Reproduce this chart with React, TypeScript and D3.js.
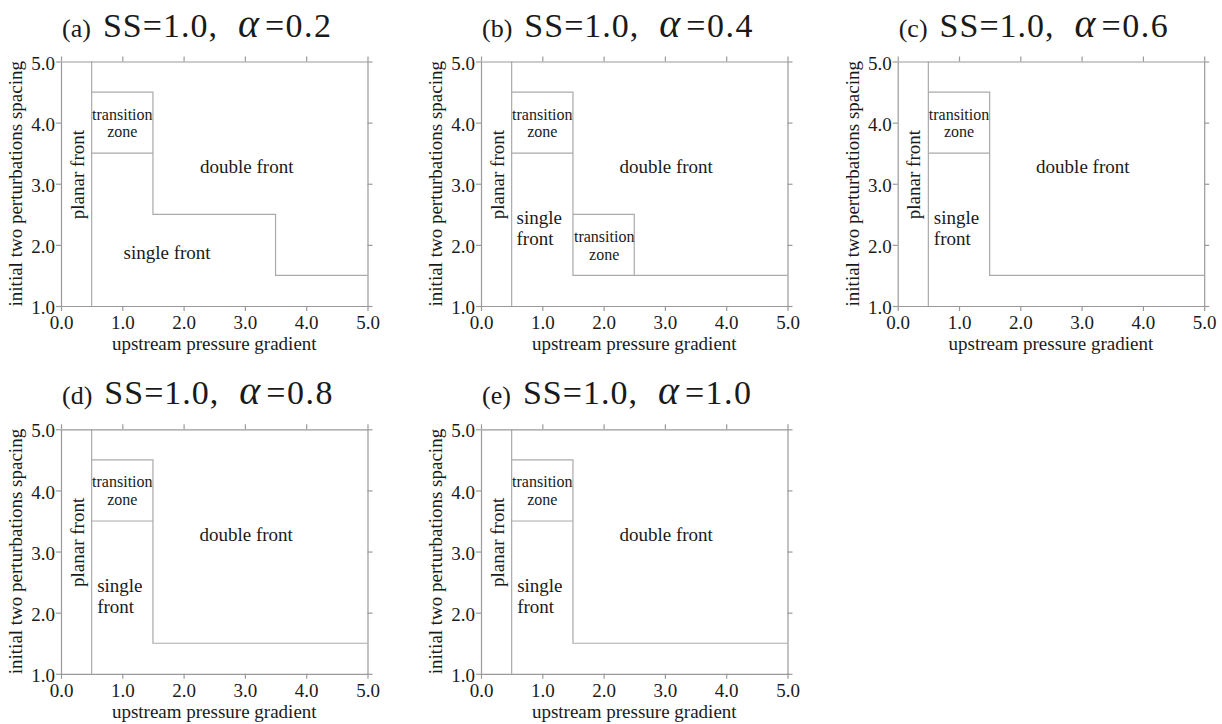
import React, { useEffect, useRef } from "react";
import * as d3 from "d3";

// ---- data ----
const panelLetters = ["a", "b", "c", "d", "e"];
const ssValues = [1.0, 1.0, 1.0, 1.0, 1.0];
const alphaValues = [0.2, 0.4, 0.6, 0.8, 1.0];
const xTicks = [0, 1, 2, 3, 4, 5];
const yTicks = [1, 2, 3, 4, 5];
const xDomain: [number, number] = [0, 5];
const yDomain: [number, number] = [1, 5];
const xLabel = "upstream pressure gradient";
const yLabel = "initial two perturbations spacing";

type Pt = [number, number];
// regime boundaries for each panel (data coordinates)
const boundariesA: Pt[][] = [
  [[0.5, 1], [0.5, 5]],
  [[0.5, 4.5], [1.5, 4.5], [1.5, 2.5], [3.5, 2.5], [3.5, 1.5], [5, 1.5]],
  [[0.5, 3.5], [1.5, 3.5]],
];
const boundariesB: Pt[][] = [
  [[0.5, 1], [0.5, 5]],
  [[0.5, 4.5], [1.5, 4.5], [1.5, 1.5], [5, 1.5]],
  [[0.5, 3.5], [1.5, 3.5]],
  [[1.5, 2.5], [2.5, 2.5], [2.5, 1.5]],
];
const boundariesC: Pt[][] = [
  [[0.5, 1], [0.5, 5]],
  [[0.5, 4.5], [1.5, 4.5], [1.5, 1.5], [5, 1.5]],
  [[0.5, 3.5], [1.5, 3.5]],
];
const boundaries = [boundariesA, boundariesB, boundariesC, boundariesC, boundariesC];

type Label = { lines: string[]; x: number; y: number; dy: number; anchor: string; small?: boolean; rotate?: boolean };
const labelsA: Label[] = [
  { lines: ["planar front"], x: 0.37, y: 3.15, dy: 0, anchor: "middle", rotate: true },
  { lines: ["transition", "zone"], x: 1.0, y: 4.05, dy: 0.29, anchor: "middle", small: true },
  { lines: ["double front"], x: 3.03, y: 3.17, dy: 0, anchor: "middle" },
  { lines: ["single front"], x: 1.73, y: 1.77, dy: 0, anchor: "middle" },
];
const labelsB: Label[] = [
  { lines: ["planar front"], x: 0.37, y: 3.15, dy: 0, anchor: "middle", rotate: true },
  { lines: ["transition", "zone"], x: 1.0, y: 4.05, dy: 0.29, anchor: "middle", small: true },
  { lines: ["double front"], x: 3.02, y: 3.17, dy: 0, anchor: "middle" },
  { lines: ["single", "front"], x: 0.58, y: 2.34, dy: 0.35, anchor: "start" },
  { lines: ["transition", "zone"], x: 2.01, y: 2.05, dy: 0.29, anchor: "middle", small: true },
];
const labelsC: Label[] = [
  { lines: ["planar front"], x: 0.37, y: 3.15, dy: 0, anchor: "middle", rotate: true },
  { lines: ["transition", "zone"], x: 1.0, y: 4.05, dy: 0.29, anchor: "middle", small: true },
  { lines: ["double front"], x: 3.02, y: 3.17, dy: 0, anchor: "middle" },
  { lines: ["single", "front"], x: 0.59, y: 2.34, dy: 0.34, anchor: "start" },
];
const labels = [labelsA, labelsB, labelsC, labelsC, labelsC];

// ---- layout ----
const W = 306.5;
const H = 244.5;
const colX = [61, 481, 897.7];
const rowY = [61.5, 429.3];
const FONT = "'Liberation Serif', 'Times New Roman', Times, serif";
const AXIS_COLOR = "#9a9a9a";
const LINE_COLOR = "#aaaaaa";
const TEXT_COLOR = "#1a1a1a";

function Panel({ idx }: { idx: number }) {
  const ref = useRef<SVGGElement>(null);
  const x0 = colX[idx % 3];
  const y0 = rowY[Math.floor(idx / 3)];
  const x = d3.scaleLinear().domain(xDomain).range([0, W]);
  const y = d3.scaleLinear().domain(yDomain).range([H, 0]);
  const fmt = d3.format(".1f");

  useEffect(() => {
    if (!ref.current) return;
    const g = d3.select(ref.current);
    g.selectAll("*").remove();
    const left = d3.axisLeft(y).tickValues(yTicks).tickSize(5).tickSizeOuter(0).tickPadding(1).tickFormat((d) => fmt(d as number));
    const bottom = d3.axisBottom(x).tickValues(xTicks).tickSize(5).tickSizeOuter(0).tickPadding(5).tickFormat((d) => fmt(d as number));
    const top = d3.axisTop(x).tickValues(xTicks).tickSize(5).tickSizeOuter(0).tickFormat(() => "");
    const right = d3.axisRight(y).tickValues(yTicks).tickSize(5).tickSizeOuter(0).tickFormat(() => "");
    const gl = g.append("g").call(left as any);
    g.append("g").attr("transform", `translate(0,${H})`).call(bottom as any);
    g.append("g").call(top as any);
    g.append("g").attr("transform", `translate(${W},0)`).call(right as any);
    g.selectAll("g").attr("font-family", FONT).attr("font-size", 19);
    g.selectAll(".domain, .tick line").attr("stroke", AXIS_COLOR).attr("stroke-width", 1.2);
    g.selectAll(".tick text").attr("fill", TEXT_COLOR);
    gl.selectAll(".tick text").attr("dy", "0.4em");
  }, []);

  const line = d3.line<Pt>().x((d) => x(d[0])).y((d) => y(d[1]));

  return (
    <g transform={`translate(${x0},${y0})`}>
      {/* title */}
      <text x={1} y={-25} fontFamily={FONT} fill={TEXT_COLOR}>
        <tspan fontSize={26}>({panelLetters[idx]})</tspan>
        <tspan dx={12} fontSize={34} letterSpacing={1}>SS={ssValues[idx].toFixed(1)},</tspan>
        <tspan dx={20} fontSize={40} fontStyle="italic">α</tspan>
        <tspan dx={6} fontSize={34} letterSpacing={1.5}>={alphaValues[idx].toFixed(1)}</tspan>
      </text>
      {/* regime boundaries */}
      {boundaries[idx].map((pts, k) => (
        <path key={k} d={line(pts) || ""} fill="none" stroke={LINE_COLOR} strokeWidth={1.2} />
      ))}
      {/* region labels */}
      {labels[idx].map((lb, k) => {
        const fs = lb.small ? 16 : 19;
        const px = x(lb.x);
        const py = y(lb.y);
        if (lb.rotate) {
          return (
            <text key={k} transform={`translate(${px},${py}) rotate(-90)`} textAnchor="middle" fontFamily={FONT} fontSize={fs} fill={TEXT_COLOR}>
              {lb.lines[0]}
            </text>
          );
        }
        return (
          <text key={k} fontFamily={FONT} fontSize={fs} fill={TEXT_COLOR} textAnchor={lb.anchor}>
            {lb.lines.map((s, j) => (
              <tspan key={j} x={px} y={py + j * (y(0) - y(lb.dy))}>{s}</tspan>
            ))}
          </text>
        );
      })}
      {/* axes */}
      <g ref={ref} />
      {/* axis titles */}
      <text x={W / 2} y={H + 44} textAnchor="middle" fontFamily={FONT} fontSize={19} fill={TEXT_COLOR}>{xLabel}</text>
      <text transform={`translate(-39,${H / 2}) rotate(-90)`} textAnchor="middle" fontFamily={FONT} fontSize={19} fill={TEXT_COLOR}>{yLabel}</text>
    </g>
  );
}

export default function App() {
  return (
    <div style={{ position: "fixed", left: 0, top: 0, width: 1222, height: 724, background: "#fff" }}>
      <svg width={1222} height={724} style={{ display: "block" }}>
        <rect width={1222} height={724} fill="#fff" />
        {panelLetters.map((_, i) => (
          <Panel key={i} idx={i} />
        ))}
      </svg>
    </div>
  );
}
